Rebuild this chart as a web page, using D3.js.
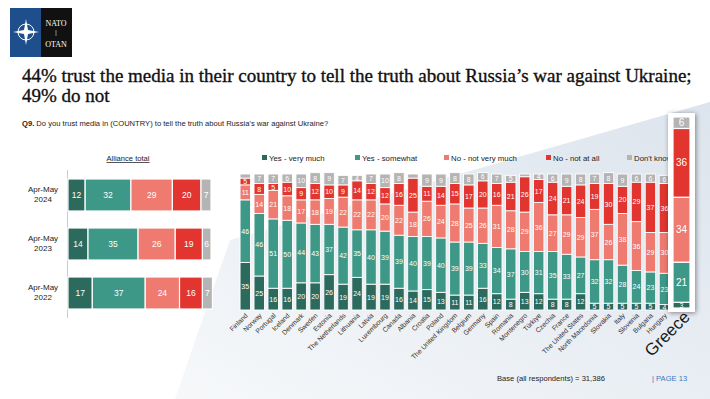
<!DOCTYPE html>
<html>
<head>
<meta charset="utf-8">
<script src="https://cdn.jsdelivr.net/npm/d3@7"></script>
<style>
  html, body { margin: 0; padding: 0; background: #fff; }
  svg { display: block; font-family: 'Liberation Sans', Arial, sans-serif; }
</style>
</head>
<body>
<svg id="chart" width="710" height="399"></svg>
<script>
// answer categories (stack order bottom -> top)
const answers = ['Yes - very much', 'Yes - somewhat', 'No - not very much', 'No - not at all', "Don't know"];
const answerColors = ['#2c6a5d', '#3e9888', '#ef7a70', '#e2352f', '#b4b4b4'];

// alliance total by wave
const waves = ['Apr-May 2024', 'Apr-May 2023', 'Apr-May 2022'];
const allianceValues = [
  [12, 32, 29, 20, 7],
  [14, 35, 26, 19, 6],
  [17, 37, 24, 16, 7]
];

// countries, Greece is highlighted separately at the end
const countries = ['Finland', 'Norway', 'Portugal', 'Iceland', 'Denmark', 'Sweden', 'Estonia', 'The Netherlands',
  'Lithuania', 'Latvia', 'Luxembourg', 'Canada', 'Albania', 'Croatia', 'Poland', 'The United Kingdom', 'Belgium',
  'Germany', 'Spain', 'Romania', 'Montenegro', 'Türkiye', 'Czechia', 'France', 'The United States',
  'North Macedonia', 'Slovakia', 'Italy', 'Slovenia', 'Bulgaria', 'Hungary', 'Greece'];
const veryMuch =    [35, 25, 16, 16, 20, 20, 26, 19, 24, 19, 19, 16, 14, 15, 13, 11, 11, 16, 12, 8, 13, 12, 8, 8, 12, 5, 5, 5, 5, 5, 4, 3];
const somewhat =    [46, 46, 51, 50, 44, 43, 37, 42, 35, 40, 39, 39, 40, 39, 40, 39, 39, 33, 34, 37, 30, 31, 35, 33, 27, 32, 32, 28, 24, 23, 23, 21];
const notVeryMuch = [11, 14, 21, 18, 17, 18, 19, 22, 22, 22, 20, 22, 18, 26, 24, 28, 25, 26, 31, 28, 29, 36, 27, 29, 29, 37, 26, 38, 36, 29, 30, 34];
const notAtAll =    [5, 8, 5, 10, 9, 12, 10, 9, 14, 12, 12, 16, 25, 11, 14, 15, 17, 20, 16, 21, 26, 17, 24, 21, 24, 19, 30, 20, 29, 37, 36, 36];
const dontKnow =    [3, 7, 7, 6, 10, 8, 9, 7, 4, 7, 10, 8, 3, 9, 9, 8, 8, 6, 7, 5, 2, 4, 6, 9, 8, 7, 8, 9, 6, 6, 6, 6];
const highlight = 'Greece';

const svg = d3.select('#chart');

// background decoration
const defs = svg.append('defs');
const grad = defs.append('linearGradient').attr('id', 'bg').attr('x1', 0).attr('y1', 1).attr('x2', 1).attr('y2', 0);
grad.append('stop').attr('offset', 0).attr('stop-color', '#f6f8fa');
grad.append('stop').attr('offset', 1).attr('stop-color', '#dce4ed');
const shadow = defs.append('filter').attr('id', 'shadow').attr('x', -0.5).attr('y', -0.2).attr('width', 2).attr('height', 1.4);
shadow.append('feDropShadow').attr('dx', 1).attr('dy', 1).attr('stdDeviation', 2.5).attr('flood-color', '#000').attr('flood-opacity', 0.45);
svg.append('path')
  .attr('d', 'M175,399 L230,240 L710,102 L710,399 Z')
  .attr('fill', 'url(#bg)');

// header
const logo = svg.append('g').attr('transform', 'translate(10,8)');
logo.append('rect').attr('width', 31).attr('height', 49).attr('fill', '#1f4e8c');
logo.append('rect').attr('x', 31).attr('width', 31).attr('height', 49).attr('fill', '#111');
const star = logo.append('g').attr('transform', 'translate(16,24)');
star.append('circle').attr('r', 8).attr('fill', 'none').attr('stroke', '#fff').attr('stroke-width', 1);
star.append('path').attr('d', 'M0,-13 L2,-2 L13,0 L2,2 L0,13 L-2,2 L-13,0 L-2,-2 Z').attr('fill', '#fff');
logo.append('text').attr('x', 46).attr('y', 18).attr('text-anchor', 'middle').attr('fill', '#fff')
  .attr('font-family', 'Liberation Serif, serif').attr('font-size', 8).text('NATO');
logo.append('line').attr('x1', 46).attr('x2', 46).attr('y1', 22).attr('y2', 28).attr('stroke', '#fff').attr('stroke-width', 0.5);
logo.append('text').attr('x', 46).attr('y', 39).attr('text-anchor', 'middle').attr('fill', '#fff')
  .attr('font-family', 'Liberation Serif, serif').attr('font-size', 8).text('OTAN');

const title = svg.append('text').attr('font-family', 'Liberation Serif, Times New Roman, serif')
  .attr('font-size', 19).attr('fill', '#111').attr('stroke', '#111').attr('stroke-width', 0.35);
title.append('tspan').attr('x', 22).attr('y', 82).text('44% trust the media in their country to tell the truth about Russia’s war against Ukraine;');
title.append('tspan').attr('x', 22).attr('y', 102).text('49% do not');

const sub = svg.append('text').attr('x', 22).attr('y', 126).attr('font-size', 7.6).attr('fill', '#222');
sub.append('tspan').attr('font-weight', 'bold').text('Q9.');
sub.append('tspan').text(' Do you trust media in (COUNTRY) to tell the truth about Russia’s war against Ukraine?');

// ---- left panel: alliance total
const stackLeft = allianceValues.map((vals, i) => {
  let acc = 0;
  return vals.map((v, k) => { const s = { wave: waves[i], k, v, x0: acc, x1: acc + v }; acc += v; return s; });
});
const xl = d3.scaleLinear().domain([0, 100]).range([68, 211]);
const yl = d3.scaleBand().domain(waves).range([170.5, 317.5]).paddingInner(0.347).paddingOuter(0.1735);

svg.append('text').attr('x', 128).attr('y', 161).attr('text-anchor', 'middle').attr('font-size', 7.6)
  .attr('fill', '#222').attr('text-decoration', 'underline').text('Alliance total');
svg.append('line').attr('x1', 67.5).attr('x2', 67.5).attr('y1', 170).attr('y2', 318).attr('stroke', '#ccc');

const leftRows = svg.append('g').selectAll('g').data(stackLeft).join('g');
leftRows.selectAll('rect').data((d) => d).join('rect')
  .attr('x', (d) => xl(d.x0))
  .attr('y', (d) => yl(d.wave))
  .attr('width', (d) => xl(d.x1) - xl(d.x0))
  .attr('height', yl.bandwidth())
  .attr('fill', (d) => answerColors[d.k])
  .attr('stroke', '#fff').attr('stroke-width', 1.2);
leftRows.selectAll('text').data((d) => d).join('text')
  .attr('x', (d) => (xl(d.x0) + xl(d.x1)) / 2)
  .attr('y', (d) => yl(d.wave) + yl.bandwidth() / 2 + 3)
  .attr('text-anchor', 'middle').attr('font-size', 8.5).attr('fill', '#fff')
  .text((d) => d.v);

const waveLabels = svg.append('g').selectAll('text').data(waves).join('text')
  .attr('text-anchor', 'middle').attr('font-size', 8).attr('fill', '#222');
waveLabels.append('tspan').attr('x', 43).attr('y', (d) => yl(d) + 13).text((d) => d.split(' ')[0]);
waveLabels.append('tspan').attr('x', 43).attr('y', (d) => yl(d) + 23).text((d) => d.split(' ')[1]);

// ---- right panel: countries
const series = [veryMuch, somewhat, notVeryMuch, notAtAll, dontKnow];
const rows = countries.map((c, i) => {
  let acc = 0;
  return { country: c, segs: series.map((s, k) => { const seg = { k, v: s[i], y0: acc, y1: acc + s[i] }; acc += s[i]; return seg; }) };
});
const normalRows = rows.filter((r) => r.country !== highlight);
const hiRow = rows.find((r) => r.country === highlight);

const xr = d3.scaleBand().domain(normalRows.map((r) => r.country)).range([238.3, 671.4]).paddingInner(0.25).paddingOuter(0.125);
const yr = d3.scaleLinear().domain([0, 100]).range([310, 174]);

// legend
const legendX = [262, 355, 444, 546, 627];
const legend = svg.append('g').selectAll('g').data(answers).join('g')
  .attr('transform', (d, i) => `translate(${legendX[i]},158)`);
legend.append('rect').attr('x', 0).attr('y', -3).attr('width', 5).attr('height', 5).attr('fill', (d, i) => answerColors[i]);
legend.append('text').attr('x', 7).attr('y', 2.5).attr('font-size', 7.8).attr('fill', '#222').text((d) => d);

const cols = svg.append('g').selectAll('g').data(normalRows).join('g')
  .attr('transform', (d) => `translate(${xr(d.country)},0)`);
cols.selectAll('rect').data((d) => d.segs).join('rect')
  .attr('x', 0)
  .attr('y', (d) => yr(d.y1))
  .attr('width', xr.bandwidth())
  .attr('height', (d) => yr(d.y0) - yr(d.y1))
  .attr('fill', (d) => answerColors[d.k])
  .attr('stroke', '#fff').attr('stroke-width', 0.9);
cols.selectAll('text').data((d) => d.segs.filter((s) => s.v >= 4)).join('text')
  .attr('x', xr.bandwidth() / 2)
  .attr('y', (d) => (yr(d.y0) + yr(d.y1)) / 2 + 2.6)
  .attr('text-anchor', 'middle').attr('font-size', 7).attr('fill', '#fff')
  .text((d) => d.v);

svg.append('g').selectAll('text').data(normalRows).join('text')
  .attr('transform', (d) => `translate(${xr(d.country) + xr.bandwidth() / 2 + 3},316) rotate(-45)`)
  .attr('text-anchor', 'end').attr('font-size', 6.8).attr('fill', '#333')
  .text((d) => d.country);

// highlighted country
const xh = d3.scaleBand().domain([highlight]).range([673, 690]);
const yh = d3.scaleLinear().domain([0, 100]).range([308, 117]);
svg.append('rect').attr('x', xh(highlight) - 5).attr('y', yh(100) - 4).attr('width', xh.bandwidth() + 10)
  .attr('height', yh(0) - yh(100) + 8).attr('fill', '#fff').attr('filter', 'url(#shadow)');
const hi = svg.append('g').attr('transform', `translate(${xh(highlight)},0)`);
hi.selectAll('rect').data(hiRow.segs).join('rect')
  .attr('x', 0)
  .attr('y', (d) => yh(d.y1))
  .attr('width', xh.bandwidth())
  .attr('height', (d) => yh(d.y0) - yh(d.y1))
  .attr('fill', (d) => answerColors[d.k])
  .attr('stroke', '#fff').attr('stroke-width', 1.2);
hi.selectAll('text').data(hiRow.segs).join('text')
  .attr('x', xh.bandwidth() / 2)
  .attr('y', (d) => (yh(d.y0) + yh(d.y1)) / 2 + (d.v < 5 ? 2.5 : 3.5))
  .attr('text-anchor', 'middle').attr('font-size', (d) => (d.v < 5 ? 7 : 10)).attr('fill', '#fff')
  .text((d) => d.v);
svg.append('text')
  .attr('transform', `translate(${xh(highlight) + xh.bandwidth() + 1},318) rotate(-45)`)
  .attr('text-anchor', 'end').attr('font-size', 17).attr('fill', '#1a1a1a')
  .text(highlight);

// footer
svg.append('text').attr('x', 497).attr('y', 381).attr('font-size', 7.6).attr('fill', '#222')
  .text('Base (all respondents) = 31,386');
svg.append('text').attr('x', 652).attr('y', 381).attr('font-size', 7.6).attr('fill', '#3b78c2')
  .text('|  PAGE 13');
</script>
</body>
</html>
